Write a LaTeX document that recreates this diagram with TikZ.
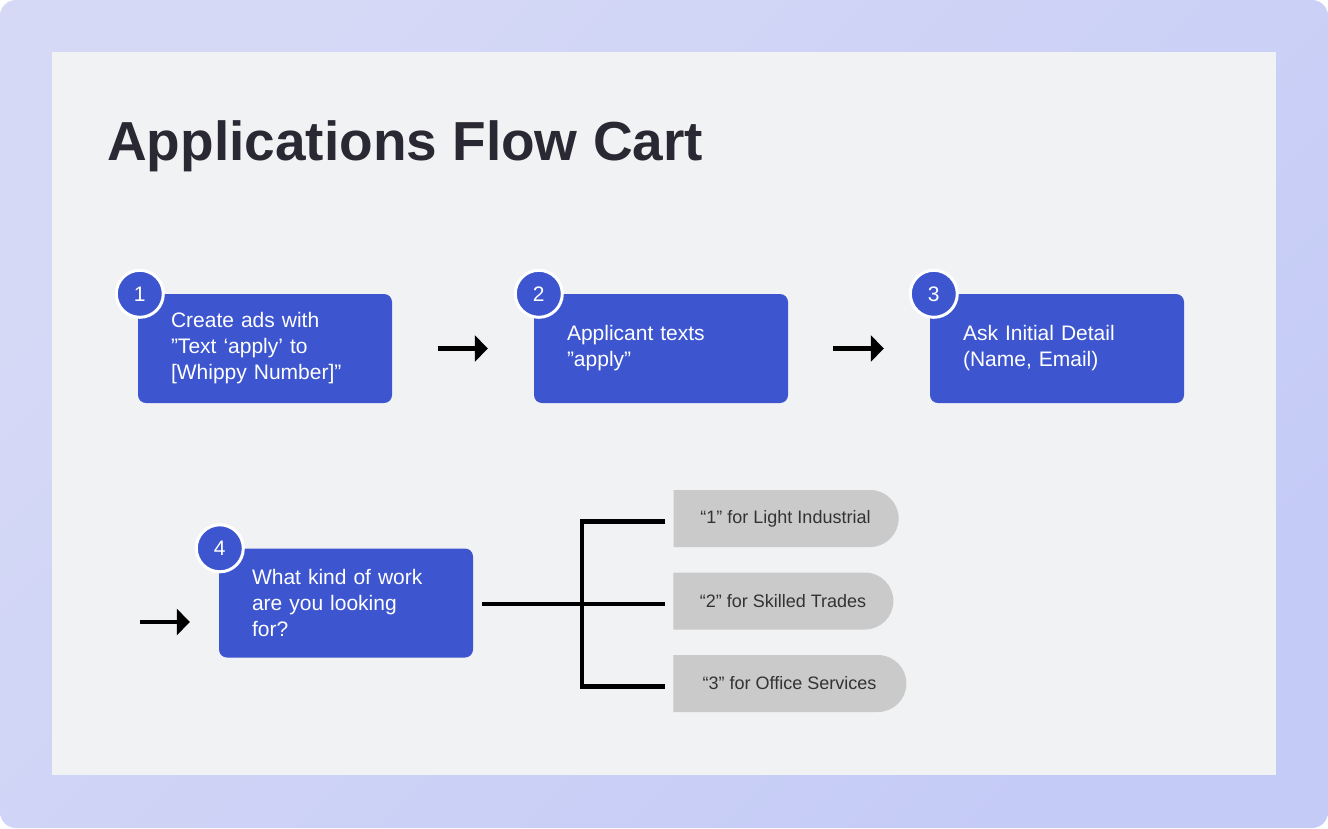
\documentclass[tikz,border=0pt]{standalone}
\usepackage{fontspec}
\setmainfont{Liberation Sans}
\usepackage{tikz}
\usetikzlibrary{arrows.meta,positioning,shapes.misc}
\usepackage{xcolor}

\definecolor{fondoA}{HTML}{D6D9F6}
\definecolor{fondoB}{HTML}{C4CBF6}
\definecolor{panel}{HTML}{F1F2F4}
\definecolor{azul}{HTML}{3D55CF}
\definecolor{titulo}{HTML}{2A2933}
\definecolor{gris}{HTML}{CACACA}
\definecolor{textogris}{HTML}{333333}

\begin{document}
\begin{tikzpicture}[x=1pt, y=-1pt]

    % Estilos para los nodos
    \tikzstyle{paso}=[rectangle, rounded corners=8pt, fill=azul, text=white,
        minimum height=109pt, text width=188pt, inner xsep=33pt, align=left,
        font=\fontsize{21}{26}\selectfont, execute at end node={\endgraf\vskip-6pt}]
    \tikzstyle{numero}=[circle, fill=azul, draw=white, line width=3pt, text=white,
        minimum size=47pt, inner sep=0pt, font=\fontsize{21}{24}\selectfont]
    \tikzstyle{opcion}=[rounded rectangle, rounded rectangle west arc=none, fill=gris,
        text=textogris, minimum height=57pt, inner xsep=0pt,
        font=\fontsize{18}{20}\selectfont]
    \tikzstyle{flecha}=[line width=4.5pt, -{Triangle[length=13pt,width=26pt]}]
    \tikzstyle{linea}=[line width=4.5pt]

    % Fondo y panel
    \shade[rounded corners=16pt, left color=fondoA, right color=fondoB,
        shading angle=45] (0,0) rectangle (1328,828);
    \fill[panel] (52,52) rectangle (1276,775);

    % Titulo
    \node[anchor=base west, inner sep=0pt, text=titulo,
        font=\fontsize{55}{60}\selectfont\bfseries] (titulo) at (107,160) {Applications Flow Cart};

    % Pasos
    \node[paso] (p1) at (265,348.5) {Create ads with\\ ”Text ‘apply’ to\\ {[Whippy Number]”}};
    \node[paso] (p2) at (661,348.5) {Applicant texts\\ ”apply”};
    \node[paso] (p3) at (1057,348.5) {Ask Initial Detail\\ (Name, Email)};
    \node[paso] (p4) at (346,603) {What kind of work\\ are you looking\\ for?};

    % Numeros
    \node[numero] (n1) at ([xshift=2pt]p1.north west) {1};
    \node[numero] (n2) at ([xshift=5pt]p2.north west) {2};
    \node[numero] (n3) at ([xshift=4pt]p3.north west) {3};
    \node[numero] (n4) at ([xshift=1pt]p4.north west) {4};

    % Opciones
    \node[opcion, minimum width=225pt] (o1) at (785.5,518.5) {“1” for Light Industrial};
    \node[opcion, minimum width=220pt] (o2) at (783,601) {“2” for Skilled Trades};
    \node[opcion, minimum width=233pt] (o3) at (789.5,683.5) {“3” for Office Services};

    % Flechas entre pasos
    \coordinate (entrada) at (140,622);
    \draw[flecha] ([xshift=46pt]p1.east) -- ([xshift=-46pt]p2.west);
    \draw[flecha] ([xshift=45pt]p2.east) -- ([xshift=-46pt]p3.west);
    \draw[flecha] (entrada) -- ([xshift=-29pt]entrada -| p4.west);

    % Ramas hacia las opciones
    \coordinate (rama) at (582,604);
    \draw[linea] ([xshift=9pt]p4.east |- rama) -- (rama);
    \draw[linea] ([xshift=-8pt,yshift=-3pt]o1.west) -| (rama)
        |- ([xshift=-8pt,yshift=-3pt]o3.west);
    \draw[linea] (rama) -- ([xshift=-8pt,yshift=-3pt]o2.west);
\end{tikzpicture}
\end{document}
